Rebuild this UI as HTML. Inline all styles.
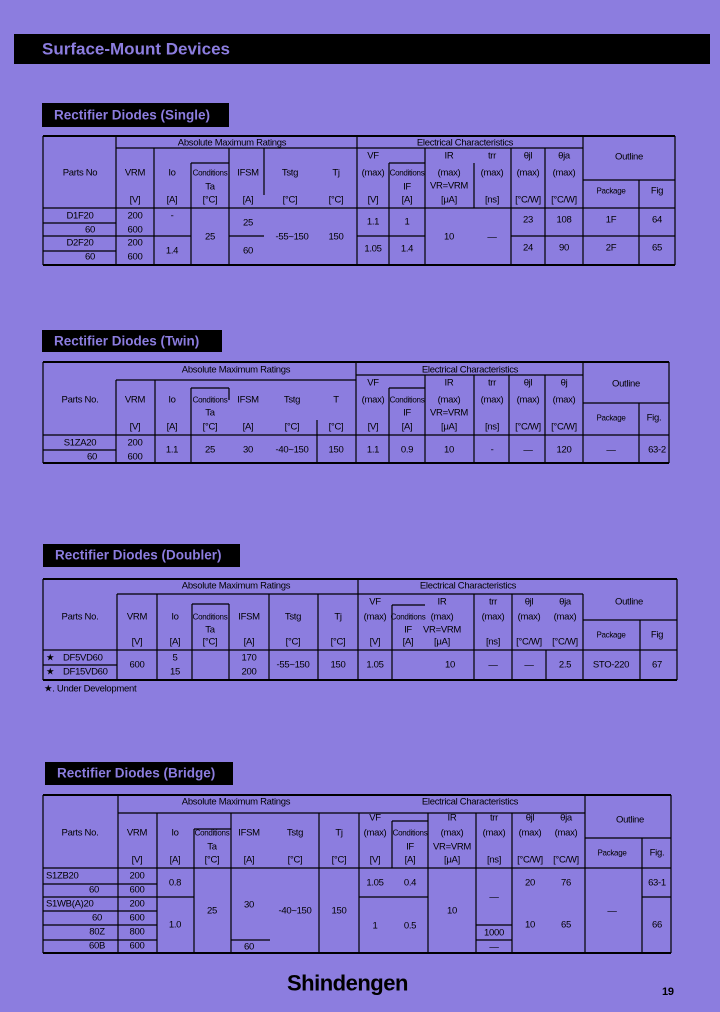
<!DOCTYPE html>
<html><head><meta charset="utf-8"><style>
html,body{margin:0;padding:0;background:#8c7ddf;}
svg{display:block}
text{font-family:"Liberation Sans",sans-serif;font-size:9.5px;fill:#000;text-anchor:middle;dominant-baseline:central;letter-spacing:-0.3px}
.l{text-anchor:start}
.t{font-weight:bold;fill:#8c7ddf;text-anchor:start;font-size:13.5px;letter-spacing:0}
line,path{stroke:#000;fill:none}
</style></head><body>
<svg width="720" height="1012" viewBox="0 0 720 1012">
<rect x="14" y="34" width="696" height="30" fill="#000"/>
<text class="t" x="42" y="49" style="font-size:17px">Surface-Mount Devices</text>

<!-- ===== Table 1 Single ===== -->
<rect x="42" y="103" width="187" height="24" fill="#000"/>
<text class="t" x="54" y="115">Rectifier Diodes (Single)</text>
<path stroke-width="2" d="M43 136H675M43 265H675"/>
<path stroke-width="1.2" d="M43 136V265M675 136V265M116 136V265M357 136V265M583 136V265M639 180V265
M154 148V265M191 163V265M229 148V265M264 148V195M389 163V265M425 148V265M474 163V208M511 148V265M545 148V265
M116 148H583M191 163H229M389 163H425M583 180H675M43 208H675
M43 223H116M43 236H191M229 236H264M357 236H425M511 236H675M43 251H116"/>
<text x="232" y="143">Absolute Maximum Ratings</text>
<text x="465" y="143">Electrical Characteristics</text>
<text x="80" y="173">Parts No</text><text x="135" y="173">VRM</text><text x="172" y="173">Io</text>
<text x="210" y="173" style="font-size:8px">Conditions</text><text x="210" y="187">Ta</text>
<text x="248" y="173">IFSM</text><text x="290" y="173">Tstg</text><text x="336" y="173">Tj</text>
<text x="373" y="156">VF</text><text x="373" y="173">(max)</text>
<text x="407" y="173" style="font-size:8px">Conditions</text><text x="407" y="187">IF</text>
<text x="449" y="156">IR</text><text x="449" y="173">(max)</text><text x="449" y="186">VR=VRM</text>
<text x="492" y="156">trr</text><text x="492" y="173">(max)</text>
<text x="528" y="156">θjl</text><text x="528" y="173">(max)</text>
<text x="564" y="156">θja</text><text x="564" y="173">(max)</text>
<text x="629" y="157">Outline</text><text x="611" y="191" style="font-size:8px">Package</text><text x="657" y="191">Fig</text>
<text x="135" y="200">[V]</text><text x="172" y="200">[A]</text><text x="210" y="200">[°C]</text><text x="248" y="200">[A]</text><text x="290" y="200">[°C]</text><text x="336" y="200">[°C]</text><text x="373" y="200">[V]</text><text x="407" y="200">[A]</text><text x="449" y="200">[μA]</text><text x="492" y="200">[ns]</text><text x="528" y="200">[°C/W]</text><text x="564" y="200">[°C/W]</text>
<text x="80" y="216">D1F20</text><text x="90" y="230">60</text><text x="80" y="243">D2F20</text><text x="90" y="257">60</text>
<text x="135" y="216">200</text><text x="135" y="230">600</text><text x="135" y="243">200</text><text x="135" y="257">600</text>
<text x="172" y="216">-</text><text x="172" y="251">1.4</text><text x="210" y="237">25</text>
<text x="248" y="223">25</text><text x="248" y="251">60</text><text x="292" y="237">-55~150</text><text x="336" y="237">150</text>
<text x="373" y="222">1.1</text><text x="407" y="222">1</text><text x="373" y="249">1.05</text><text x="407" y="249">1.4</text>
<text x="449" y="237">10</text><text x="492" y="237">—</text>
<text x="528" y="220">23</text><text x="564" y="220">108</text><text x="611" y="220">1F</text><text x="657" y="220">64</text>
<text x="528" y="248">24</text><text x="564" y="248">90</text><text x="611" y="248">2F</text><text x="657" y="248">65</text>

<!-- ===== Table 2 Twin ===== -->
<rect x="42" y="330" width="180" height="22" fill="#000"/>
<text class="t" x="54" y="341">Rectifier Diodes (Twin)</text>
<path stroke-width="2" d="M43 362H669M43 463H669"/>
<path stroke-width="1.2" d="M43 362V463M669 362V463M116 380V463M155 380V463M191 388V463M229 388V400M317 420V463M356 362V463M389 388V463M425 375V463M474 375V463M509 375V463M545 375V463M583 362V463M639 403V463
M116 380H356M356 375H583M191 388H229M389 388H425M583 403H669M43 435H669M43 450H116"/>
<text x="236" y="370">Absolute Maximum Ratings</text><text x="470" y="370">Electrical Characteristics</text>
<text x="80" y="400">Parts No.</text><text x="135" y="400">VRM</text><text x="172" y="400">Io</text>
<text x="210" y="400" style="font-size:8px">Conditions</text><text x="210" y="413">Ta</text>
<text x="248" y="400">IFSM</text><text x="292" y="400">Tstg</text><text x="336" y="400">T</text>
<text x="373" y="383">VF</text><text x="373" y="400">(max)</text>
<text x="407" y="400" style="font-size:8px">Conditions</text><text x="407" y="413">IF</text>
<text x="449" y="383">IR</text><text x="449" y="400">(max)</text><text x="449" y="413">VR=VRM</text>
<text x="492" y="383">trr</text><text x="492" y="400">(max)</text>
<text x="528" y="383">θjl</text><text x="528" y="400">(max)</text>
<text x="564" y="383">θj</text><text x="564" y="400">(max)</text>
<text x="626" y="384">Outline</text><text x="611" y="418" style="font-size:8px">Package</text><text x="654" y="418">Fig.</text>
<text x="135" y="427">[V]</text><text x="172" y="427">[A]</text><text x="210" y="427">[°C]</text><text x="248" y="427">[A]</text><text x="292" y="427">[°C]</text><text x="336" y="427">[°C]</text><text x="373" y="427">[V]</text><text x="407" y="427">[A]</text><text x="449" y="427">[μA]</text><text x="492" y="427">[ns]</text><text x="528" y="427">[°C/W]</text><text x="564" y="427">[°C/W]</text>
<text x="80" y="443">S1ZA20</text><text x="92" y="457">60</text><text x="135" y="443">200</text><text x="135" y="457">600</text>
<text x="172" y="450">1.1</text><text x="210" y="450">25</text><text x="248" y="450">30</text><text x="292" y="450">-40~150</text><text x="336" y="450">150</text>
<text x="373" y="450">1.1</text><text x="407" y="450">0.9</text><text x="449" y="450">10</text><text x="492" y="450">-</text><text x="528" y="450">—</text><text x="564" y="450">120</text><text x="611" y="450">—</text><text x="657" y="450">63-2</text>

<!-- ===== Table 3 Doubler ===== -->
<rect x="43" y="544" width="197" height="23" fill="#000"/>
<text class="t" x="55" y="555">Rectifier Diodes (Doubler)</text>
<path stroke-width="2" d="M43 579H677M43 680H677"/>
<path stroke-width="1.2" d="M43 579V680M677 579V680M117 594V680M157 594V680M192 604V680M229 604V680M269 594V680M318 594V680M358 579V680M392 605V680M474 594V680M512 594V680M546 650V680M583 594V680M640 620V680
M117 594H358M358 594H583M192 604H229M392 605H425M583 620H677M43 650H677M43 665H117"/>
<text x="236" y="586">Absolute Maximum Ratings</text><text x="468" y="586">Electrical Characteristics</text>
<text x="80" y="617">Parts No.</text><text x="137" y="617">VRM</text><text x="175" y="617">Io</text>
<text x="210" y="617" style="font-size:8px">Conditions</text><text x="210" y="630">Ta</text>
<text x="249" y="617">IFSM</text><text x="293" y="617">Tstg</text><text x="338" y="617">Tj</text>
<text x="375" y="602">VF</text><text x="375" y="617">(max)</text>
<text x="408" y="617" style="font-size:8px">Conditions</text><text x="408" y="630">IF</text>
<text x="442" y="602">IR</text><text x="442" y="617">(max)</text><text x="442" y="630">VR=VRM</text>
<text x="493" y="602">trr</text><text x="493" y="617">(max)</text>
<text x="529" y="602">θjl</text><text x="529" y="617">(max)</text>
<text x="565" y="602">θja</text><text x="565" y="617">(max)</text>
<text x="629" y="602">Outline</text><text x="611" y="635" style="font-size:8px">Package</text><text x="657" y="635">Fig</text>
<text x="137" y="642">[V]</text><text x="175" y="642">[A]</text><text x="210" y="642">[°C]</text><text x="249" y="642">[A]</text><text x="293" y="642">[°C]</text><text x="338" y="642">[°C]</text><text x="375" y="642">[V]</text><text x="408" y="642">[A]</text><text x="442" y="642">[μA]</text><text x="493" y="642">[ns]</text><text x="529" y="642">[°C/W]</text><text x="565" y="642">[°C/W]</text>
<text class="l" x="46" y="658">★</text><text class="l" x="63" y="658">DF5VD60</text>
<text class="l" x="46" y="672">★</text><text class="l" x="63" y="672">DF15VD60</text>
<text x="137" y="665">600</text><text x="175" y="658">5</text><text x="175" y="672">15</text>
<text x="249" y="658">170</text><text x="249" y="672">200</text><text x="293" y="665">-55~150</text><text x="338" y="665">150</text>
<text x="375" y="665">1.05</text><text x="450" y="665">10</text><text x="493" y="665">—</text><text x="529" y="665">—</text><text x="565" y="665">2.5</text><text x="611" y="665">STO-220</text><text x="657" y="665">67</text>
<text class="l" x="44" y="689">★. Under Development</text>

<!-- ===== Table 4 Bridge ===== -->
<rect x="45" y="762" width="188" height="23" fill="#000"/>
<text class="t" x="57" y="773">Rectifier Diodes (Bridge)</text>
<path stroke-width="2" d="M43 795H671M43 953H671"/>
<path stroke-width="1.2" d="M43 795V953M671 795V953M118 795V953M157 813V953M194 829V953M231 813V953M319 813V953M359 813V953M428 813V953M476 813V953M512 813V953M585 795V953M642 838V953
M118 813H585M194 829H231M392 821H428M585 838H671M43 868H671
M43 884H157M43 897H194M43 911H157M43 925H157M43 940H157M359 897H428M476 925H512M476 940H512M231 940H270M642 897H671"/>
<path stroke-width="1.2" d="M392 821V868"/>
<text x="236" y="802">Absolute Maximum Ratings</text><text x="470" y="802">Electrical Characteristics</text>
<text x="80" y="833">Parts No.</text><text x="137" y="833">VRM</text><text x="175" y="833">Io</text>
<text x="212" y="833" style="font-size:8px">Conditions</text><text x="212" y="847">Ta</text>
<text x="249" y="833">IFSM</text><text x="295" y="833">Tstg</text><text x="339" y="833">Tj</text>
<text x="375" y="818">VF</text><text x="375" y="833">(max)</text>
<text x="410" y="833" style="font-size:8px">Conditions</text><text x="410" y="847">IF</text>
<text x="452" y="818">IR</text><text x="452" y="833">(max)</text><text x="452" y="847">VR=VRM</text>
<text x="494" y="818">trr</text><text x="494" y="833">(max)</text>
<text x="530" y="818">θjl</text><text x="530" y="833">(max)</text>
<text x="566" y="818">θja</text><text x="566" y="833">(max)</text>
<text x="630" y="820">Outline</text><text x="612" y="853" style="font-size:8px">Package</text><text x="657" y="853">Fig.</text>
<text x="137" y="860">[V]</text><text x="175" y="860">[A]</text><text x="212" y="860">[°C]</text><text x="249" y="860">[A]</text><text x="295" y="860">[°C]</text><text x="339" y="860">[°C]</text><text x="375" y="860">[V]</text><text x="410" y="860">[A]</text><text x="452" y="860">[μA]</text><text x="494" y="860">[ns]</text><text x="530" y="860">[°C/W]</text><text x="566" y="860">[°C/W]</text>
<text class="l" x="46" y="876">S1ZB20</text><text x="94" y="890">60</text><text class="l" x="46" y="904">S1WB(A)20</text><text x="97" y="918">60</text><text x="97" y="932">80Z</text><text x="97" y="946">60B</text>
<text x="137" y="876">200</text><text x="137" y="890">600</text><text x="137" y="904">200</text><text x="137" y="918">600</text><text x="137" y="932">800</text><text x="137" y="946">600</text>
<text x="175" y="883">0.8</text><text x="175" y="925">1.0</text><text x="212" y="911">25</text>
<text x="249" y="905">30</text><text x="249" y="947">60</text><text x="295" y="911">-40~150</text><text x="339" y="911">150</text>
<text x="375" y="883">1.05</text><text x="410" y="883">0.4</text><text x="375" y="926">1</text><text x="410" y="926">0.5</text>
<text x="452" y="911">10</text><text x="494" y="897">—</text><text x="494" y="933">1000</text><text x="494" y="947">—</text>
<text x="530" y="883">20</text><text x="566" y="883">76</text><text x="530" y="925">10</text><text x="566" y="925">65</text>
<text x="612" y="911">—</text><text x="657" y="883">63-1</text><text x="657" y="925">66</text>

<text class="l" x="287" y="983" style="font-size:22px;font-weight:bold;letter-spacing:-0.5px">Shindengen</text>
<text class="l" x="662" y="992" style="font-size:11px;font-weight:bold">19</text>
</svg>
</body></html>
